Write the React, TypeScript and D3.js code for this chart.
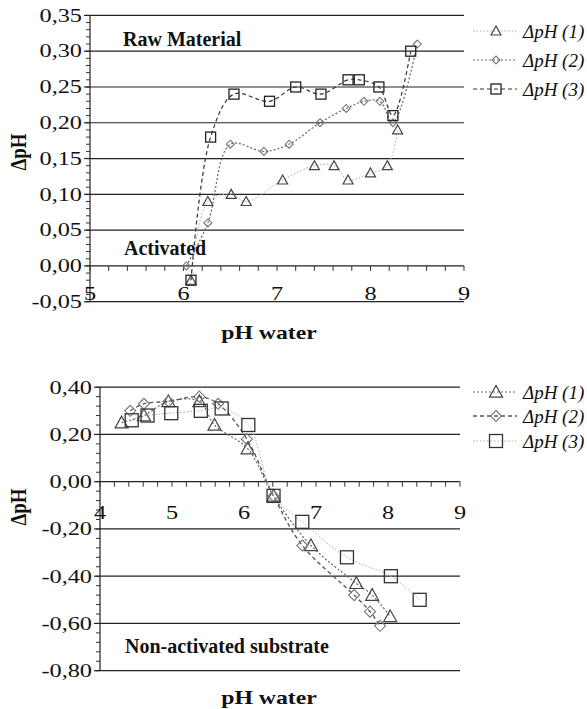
import React from 'react';
import * as d3 from 'd3';

// ---------- data: top chart (Raw Material / Activated) ----------
const topX1 = [6.08, 6.26, 6.51, 6.67, 7.06, 7.40, 7.61, 7.76, 8.00, 8.18, 8.29];
const topY1 = [-0.02, 0.09, 0.10, 0.09, 0.12, 0.14, 0.14, 0.12, 0.13, 0.14, 0.19];
const topX2 = [6.03, 6.26, 6.50, 6.86, 7.13, 7.46, 7.74, 7.93, 8.10, 8.24, 8.50];
const topY2 = [0.00, 0.06, 0.17, 0.16, 0.17, 0.20, 0.22, 0.23, 0.23, 0.20, 0.31];
const topX3 = [6.08, 6.29, 6.54, 6.92, 7.20, 7.47, 7.76, 7.88, 8.09, 8.24, 8.43];
const topY3 = [-0.02, 0.18, 0.24, 0.23, 0.25, 0.24, 0.26, 0.26, 0.25, 0.21, 0.30];
const topYTicks = [-0.05, 0.0, 0.05, 0.1, 0.15, 0.2, 0.25, 0.3, 0.35];
const topXTicks = [5, 6, 7, 8, 9];

// ---------- data: bottom chart (Non-activated substrate) ----------
const botX1 = [4.30, 4.61, 4.95, 5.38, 5.59, 6.05, 6.41, 6.93, 7.56, 7.78, 8.03];
const botY1 = [0.25, 0.28, 0.34, 0.34, 0.24, 0.14, -0.06, -0.27, -0.43, -0.48, -0.57];
const botX2 = [4.42, 4.61, 4.95, 5.38, 5.64, 6.04, 6.41, 6.81, 7.53, 7.75, 7.89];
const botY2 = [0.30, 0.33, 0.34, 0.36, 0.33, 0.18, -0.06, -0.27, -0.48, -0.55, -0.61];
const botX3 = [4.44, 4.66, 4.99, 5.40, 5.69, 6.06, 6.41, 6.81, 7.43, 8.04, 8.44];
const botY3 = [0.26, 0.28, 0.29, 0.30, 0.31, 0.24, -0.06, -0.17, -0.32, -0.40, -0.50];
const botYTicks = [-0.8, -0.6, -0.4, -0.2, 0.0, 0.2, 0.4];
const botXTicks = [4, 5, 6, 7, 8, 9];

const seriesNames = ['ΔpH (1)', 'ΔpH (2)', 'ΔpH (3)'];

const SERIF = 'Liberation Serif, Times New Roman, Tinos, DejaVu Serif, serif';

type Style = { stroke: string; dash: string; width: number; marker: 'tri' | 'dia' | 'sq'; mSize: number; mStroke: string };

function Marker({ kind, x, y, s, stroke }: { kind: string; x: number; y: number; s: number; stroke: string }) {
  const h = s / 2;
  if (kind === 'tri') {
    const pts = `${x},${y - h} ${x - h},${y + h * 0.8} ${x + h},${y + h * 0.8}`;
    return <polygon points={pts} fill="none" stroke={stroke} strokeWidth={1.2} />;
  }
  if (kind === 'dia') {
    const pts = `${x},${y - h} ${x + h},${y} ${x},${y + h} ${x - h},${y}`;
    return <polygon points={pts} fill="none" stroke={stroke} strokeWidth={1.1} />;
  }
  return <rect x={x - h} y={y - h} width={s} height={s} fill="none" stroke={stroke} strokeWidth={1.3} />;
}

const fmt = (v: number) => (Math.abs(v) < 1e-9 ? 0 : v).toFixed(2).replace('.', ',');

const SX = 1.35; // horizontal stretch of axis text as in the reference

function Panel(props: {
  xs: number[][]; ys: number[][]; styles: Style[];
  xDomain: [number, number]; yDomain: [number, number];
  xRange: [number, number]; yRange: [number, number];
  yTicks: number[]; xTicks: number[]; yMinorStep: number;
  xLabelY: number; titleY: number; yTitleY: number;
  legendX: number; legendY: number[];
}) {
  const x = d3.scaleLinear().domain(props.xDomain).range(props.xRange);
  const y = d3.scaleLinear().domain(props.yDomain).range(props.yRange);
  const x0 = props.xRange[0], x1 = props.xRange[1];
  const yZero = y(0);
  const line = d3.line<[number, number]>().x(d => x(d[0])).y(d => y(d[1])).curve(d3.curveCatmullRom.alpha(0.5));

  const minorY: number[] = [];
  const nY = Math.round((props.yDomain[1] - props.yDomain[0]) / props.yMinorStep);
  for (let i = 0; i <= nY; i++) minorY.push(props.yDomain[0] + i * props.yMinorStep);
  const minorX: number[] = [];
  const nX = Math.round((props.xDomain[1] - props.xDomain[0]) / 0.2);
  for (let i = 0; i <= nX; i++) minorX.push(props.xDomain[0] + i * 0.2);

  return (
    <g>
      {props.yTicks.map(t => (
        <line key={'g' + t} x1={x0} x2={x1} y1={y(t)} y2={y(t)} stroke="#222" strokeWidth={1.2} />
      ))}
      <line x1={x0} x2={x0} y1={props.yRange[0]} y2={props.yRange[1]} stroke="#222" strokeWidth={1.2} />
      {minorY.map((t, i) => (
        <line key={'my' + i} x1={x0 - 4} x2={x0} y1={y(t)} y2={y(t)} stroke="#333" strokeWidth={1} />
      ))}
      {props.yTicks.map(t => (
        <line key={'My' + t} x1={x0 - 6} x2={x0} y1={y(t)} y2={y(t)} stroke="#222" strokeWidth={1.2} />
      ))}
      {minorX.map((t, i) => (
        <line key={'mx' + i} x1={x(t)} x2={x(t)} y1={yZero} y2={yZero + 5} stroke="#333" strokeWidth={1} />
      ))}
      {props.yTicks.map(t => (
        <text key={'yl' + t} transform={`translate(${x0 - 8},${y(t)}) scale(${SX},1)`} dy="0.35em" textAnchor="end" fontFamily={SERIF} fontSize={18} fill="#111">{fmt(t)}</text>
      ))}
      {props.xTicks.map(t => (
        <text key={'xl' + t} transform={`translate(${x(t)},${props.xLabelY}) scale(${SX},1)`} textAnchor="middle" fontFamily={SERIF} fontSize={18} fill="#111">{t}</text>
      ))}
      <text transform={`translate(269,${props.titleY}) scale(1.25,1)`} textAnchor="middle" fontFamily={SERIF} fontSize={19} fontWeight="bold" fill="#111">pH water</text>
      <text transform={`translate(26,${props.yTitleY}) scale(1.25,1) rotate(-90)`} textAnchor="middle" fontFamily={SERIF} fontSize={19} fontWeight="bold" fill="#111">ΔpH</text>
      {props.xs.map((xs, si) => {
        const st = props.styles[si];
        const pts = xs.map((v, i) => [v, props.ys[si][i]] as [number, number]);
        return (
          <g key={'s' + si}>
            <path d={line(pts) || ''} fill="none" stroke={st.stroke} strokeWidth={st.width} strokeDasharray={st.dash} />
            {pts.map((p, i) => (
              <Marker key={i} kind={st.marker} x={x(p[0])} y={y(p[1])} s={st.mSize} stroke={st.mStroke} />
            ))}
          </g>
        );
      })}
      {props.styles.map((st, si) => {
        const ly = props.legendY[si];
        const lx = props.legendX;
        return (
          <g key={'lg' + si}>
            <line x1={lx} x2={lx + 44} y1={ly} y2={ly} stroke={st.stroke} strokeWidth={st.width} strokeDasharray={st.dash} />
            <Marker kind={st.marker} x={lx + 23} y={ly} s={st.mSize} stroke={st.mStroke} />
            <text x={lx + 50} y={ly} dy="0.35em" fontFamily={SERIF} fontSize={19} fontStyle="italic" fill="#111">{seriesNames[si]}</text>
          </g>
        );
      })}
    </g>
  );
}

export default function App() {
  const topStyles: Style[] = [
    { stroke: '#aaa', dash: '1.5,2', width: 1, marker: 'tri', mSize: 10, mStroke: '#444' },
    { stroke: '#666', dash: '2,2', width: 1.2, marker: 'dia', mSize: 8, mStroke: '#777' },
    { stroke: '#333', dash: '4,3', width: 1.2, marker: 'sq', mSize: 10, mStroke: '#222' },
  ];
  const botStyles: Style[] = [
    { stroke: '#666', dash: '2,2', width: 1.2, marker: 'tri', mSize: 13, mStroke: '#444' },
    { stroke: '#555', dash: '4,3', width: 1.3, marker: 'dia', mSize: 11, mStroke: '#777' },
    { stroke: '#aaa', dash: '1.5,2', width: 1, marker: 'sq', mSize: 13, mStroke: '#333' },
  ];
  return (
    <svg width={587} height={709} style={{ position: 'absolute', left: 0, top: 0, background: '#fff' }}>
      <rect width={587} height={709} fill="#fff" />
      <Panel
        xs={[topX1, topX2, topX3]} ys={[topY1, topY2, topY3]} styles={topStyles}
        xDomain={[5, 9]} yDomain={[-0.05, 0.35]} xRange={[90, 464]} yRange={[301.7, 15.4]}
        yTicks={topYTicks} xTicks={topXTicks} yMinorStep={0.01}
        xLabelY={300} titleY={339} yTitleY={152}
        legendX={473} legendY={[31, 60, 89]}
      />
      <text x={123} y={46} fontFamily={SERIF} fontSize={20} fontWeight="bold" fill="#111">Raw Material</text>
      <text x={124} y={255} fontFamily={SERIF} fontSize={20} fontWeight="bold" fill="#111">Activated</text>
      <Panel
        xs={[botX1, botX2, botX3]} ys={[botY1, botY2, botY3]} styles={botStyles}
        xDomain={[4, 9]} yDomain={[-0.8, 0.4]} xRange={[100, 460]} yRange={[670.7, 387.2]}
        yTicks={botYTicks} xTicks={botXTicks} yMinorStep={0.04}
        xLabelY={519} titleY={704} yTitleY={507}
        legendX={473} legendY={[392, 416, 441]}
      />
      <text x={125} y={653} fontFamily={SERIF} fontSize={20} fontWeight="bold" fill="#111">Non-activated substrate</text>
    </svg>
  );
}
